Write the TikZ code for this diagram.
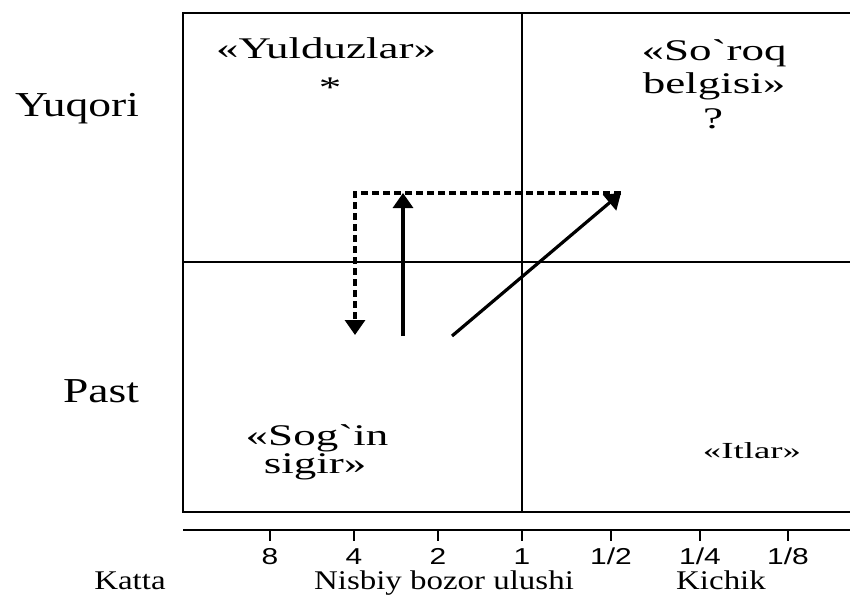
\documentclass[tikz,border=0pt]{standalone}
\usepackage{fontspec}
\setmainfont{Liberation Serif}
\newfontfamily\sidefont[FakeStretch=1.3]{Liberation Serif}
\newfontfamily\cellfont[FakeStretch=1.5]{Liberation Serif}
\newfontfamily\dogfont[FakeStretch=1.6]{Liberation Serif}
\newfontfamily\axisfont[FakeStretch=1.22]{Liberation Serif}
\newfontfamily\tickfont[FakeStretch=1.3]{Liberation Sans}
\usetikzlibrary{arrows.meta}

\tikzset{
  frame/.style={line width=2pt},
  tickmark/.style={line width=2.5pt},
  move/.style={line width=3.2pt, -{Triangle[length=15pt,width=20pt]}},
  moveback/.style={move, dash pattern=on 7pt off 4pt},
  rowlab/.style={anchor=base, inner sep=0pt, font=\fontsize{35}{40}\sidefont},
  cell/.style={anchor=base, inner sep=0pt, font=\fontsize{30}{34}\cellfont},
  axislab/.style={anchor=base, inner sep=0pt, font=\fontsize{27}{30}\axisfont},
  numlab/.style={anchor=base, inner sep=0pt, font=\fontsize{23}{26}\tickfont}
}

\begin{document}
\begin{tikzpicture}[x=1pt, y=-1pt]
    \useasboundingbox (0,0) rectangle (850,595);
    % matrix frame
    \draw[frame] (850,13) -- (183,13) -- (183,512) -- (850,512);
    \draw[frame] (522,13) -- (522,512);
    \draw[frame] (183,262) -- (850,262);
    % row labels
    \node[rowlab] (high) at (77,116) {Yuqori};
    \node[rowlab] (low) at (101,402) {Past};
    % quadrants
    \node[cell] (stars) at (326,58) {«Yulduzlar»};
    \node[cell] (starmark) at (330,97) {*};
    \node[cell] (quest) at (714,60) {«So`roq};
    \node[cell] (quest2) at (714,93) {belgisi»};
    \node[cell] (questmark) at (713,128) {?};
    \node[cell] (cows) at (317,445) {«Sog`in};
    \begin{scope}
      \clip (183,13) rectangle (522,483);
      \node[cell] (cows2) at (315,473) {sigir»};
    \end{scope}
    \node[anchor=base, inner sep=0pt, font=\fontsize{23}{27}\dogfont] (dogs) at (752,458) {«Itlar»};
    % moves
    \coordinate (dogtail) at (452,336);
    \coordinate (questtip) at (621,193);
    \coordinate (corner) at (355,193);
    \coordinate (cowtip) at (355,335);
    \coordinate (starfoot) at (403,336);
    \coordinate (startip) at (403,193);
    \draw[moveback] (questtip) -- (corner) -- (cowtip);
    \draw[move] (starfoot) -- (startip);
    \draw[move] (dogtail) -- (questtip);
    % share axis
    \draw[frame] (183,530) -- (850,530);
    \foreach \x/\t [count=\i] in {270/8, 354/4, 438/2, 522/1, 611/{1/2}, 700/{1/4}, 788/{1/8}} {
      \draw[tickmark] (\x,530) -- (\x,541);
      \node[numlab] (n\i) at (\x,564) {\t};
    }
    \node[axislab] (big) at (130,589) {Katta};
    \node[axislab] (share) at (444,589) {Nisbiy bozor ulushi};
    \node[axislab] (small) at (721,589) {Kichik};
\end{tikzpicture}
\end{document}
